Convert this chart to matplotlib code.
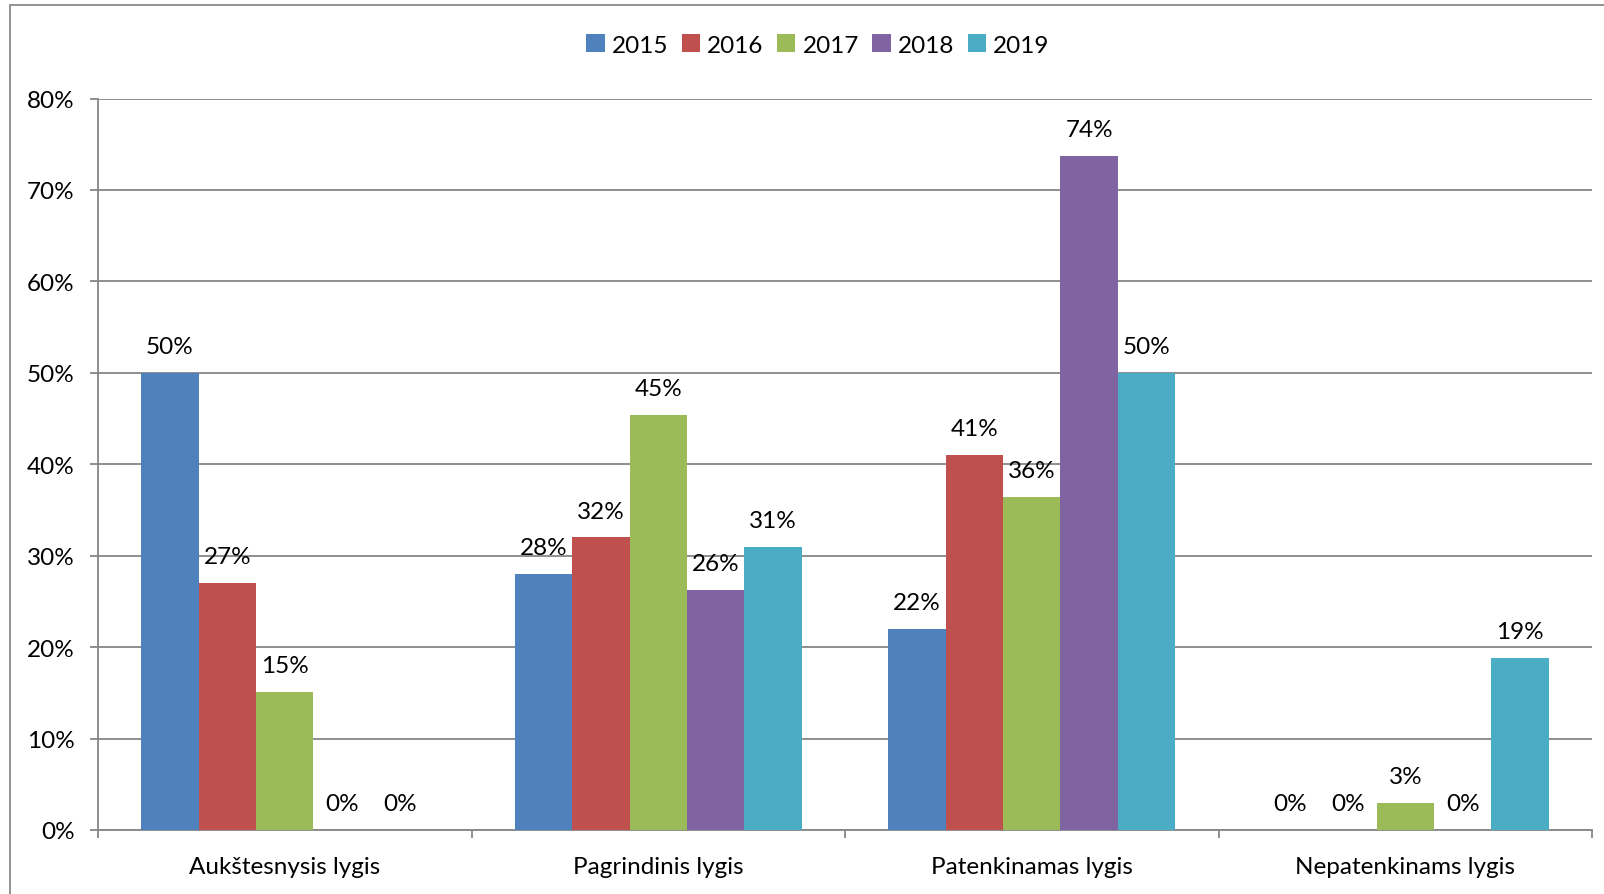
import matplotlib
matplotlib.use("Agg")
import matplotlib.pyplot as plt
import numpy as np
from matplotlib.patches import Rectangle

categories = ["Aukštesnysis lygis", "Pagrindinis lygis", "Patenkinamas lygis", "Nepatenkinams lygis"]
series_names = ["2015", "2016", "2017", "2018", "2019"]
v2015 = [50.0, 28.0, 22.0, 0.0]
v2016 = [27.0, 32.0, 41.0, 0.0]
v2017 = [15.1, 45.4, 36.4, 3.0]
v2018 = [0.0, 26.3, 73.7, 0.0]
v2019 = [0.0, 31.0, 50.0, 18.8]
yticks = [0, 10, 20, 30, 40, 50, 60, 70, 80]
colors = ["#4F81BD", "#C0504D", "#9BBB59", "#8064A2", "#4BACC6"]

plt.rcParams['font.family'] = ['Lato', 'DejaVu Sans']
FS = 17.5

W, H = 1604, 895
fig = plt.figure(figsize=(W/100, H/100), dpi=100)
ax = fig.add_axes([98/W, 1 - 831/H, (1592-98)/W, (831-99.5)/H])

# outer chart frame
fig.patches.append(Rectangle((10/W, -0.1), 1.2, 1 - 6/H + 0.1, transform=fig.transFigure,
                             fill=False, edgecolor="#898989", linewidth=1.3))

series = [v2015, v2016, v2017, v2018, v2019]
n = len(series)
bw = 1/(n + 1.5)
x = np.arange(len(categories))
for i, (vals, name, c) in enumerate(zip(series, series_names, colors)):
    pos = x + (i - (n-1)/2)*bw
    ax.bar(pos, vals, width=bw, color=c, label=name, zorder=3)
    for xp, v in zip(pos, vals):
        ax.annotate(f"{round(v):.0f}%", (xp, v), xytext=(0, 19), textcoords="offset points",
                    ha="center", va="center", fontsize=FS, color="#000000")

ax.set_xlim(-0.5, len(categories) - 0.5)
ax.set_ylim(0, 80)
ax.set_yticks(yticks)
ax.set_yticklabels([f"{t}%" for t in yticks])
ax.yaxis.grid(True, color="#868686", linewidth=1.3, zorder=0)
ax.set_axisbelow(True)

ax.set_xticks(np.arange(-0.5, len(categories)), minor=False)
ax.set_xticklabels([])
ax.set_xticks(x, minor=True)
ax.set_xticklabels(categories, minor=True)
ax.tick_params(axis="x", which="minor", length=0, pad=19, labelsize=FS)
ax.tick_params(axis="x", which="major", length=6, width=1.3, color="#868686", direction="out")
ax.tick_params(axis="y", length=6, width=1.3, color="#868686", direction="out", labelsize=FS, pad=11)

for s in ["top", "right"]:
    ax.spines[s].set_visible(False)
for s in ["left", "bottom"]:
    ax.spines[s].set_color("#868686")
    ax.spines[s].set_linewidth(1.3)

leg = fig.legend(loc="center", bbox_to_anchor=(818/W, 1 - 46/H), ncol=5, frameon=False,
                 fontsize=FS, handlelength=0.75, handleheight=0.75, handletextpad=0.3,
                 columnspacing=0.55)

fig.savefig("out.png", dpi=100)
